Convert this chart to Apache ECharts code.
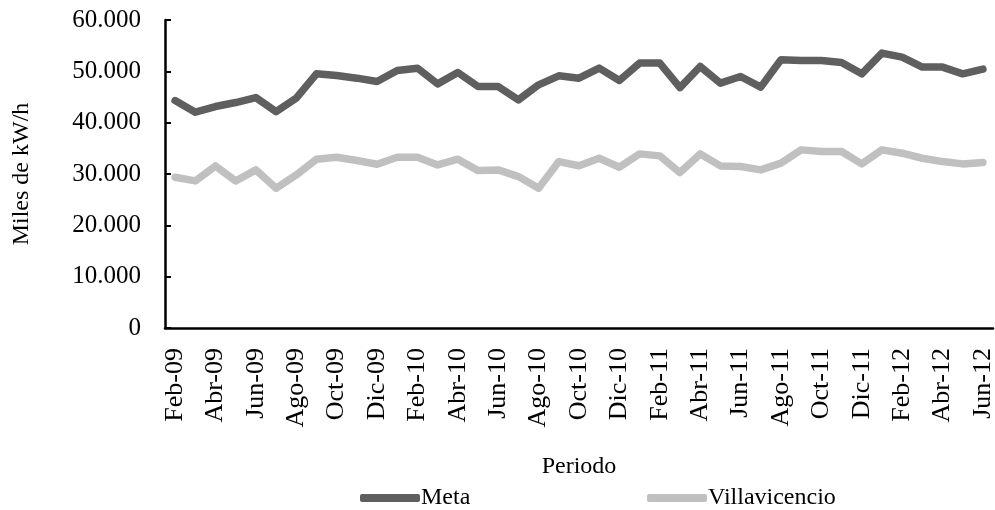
<!DOCTYPE html>
<html>
<head>
<meta charset="utf-8">
<script src="https://cdn.jsdelivr.net/npm/echarts@6/dist/echarts.min.js"></script>
<style>
html, body { margin: 0; padding: 0; background: #fff; }
#chart { width: 995px; height: 510px; }
</style>
</head>
<body>
<div id="chart"></div>
<script>
// periodos mensuales feb-2009 .. jun-2012
const periodos = [
  'Feb-09', 'Mar-09', 'Abr-09', 'May-09', 'Jun-09', 'Jul-09', 'Ago-09', 'Sep-09', 'Oct-09', 'Nov-09', 'Dic-09',
  'Ene-10', 'Feb-10', 'Mar-10', 'Abr-10', 'May-10', 'Jun-10', 'Jul-10', 'Ago-10', 'Sep-10', 'Oct-10', 'Nov-10', 'Dic-10',
  'Ene-11', 'Feb-11', 'Mar-11', 'Abr-11', 'May-11', 'Jun-11', 'Jul-11', 'Ago-11', 'Sep-11', 'Oct-11', 'Nov-11', 'Dic-11',
  'Ene-12', 'Feb-12', 'Mar-12', 'Abr-12', 'May-12', 'Jun-12'
]
// miles de kWh
const meta = [
  44300, 42050, 43140, 43920, 44890, 42160, 44770, 49510, 49180, 48670, 48010,
  50160, 50620, 47560, 49770, 47040, 47040, 44440, 47370, 49120, 48670, 50620, 48210,
  51600, 51600, 46840, 50940, 47700, 49000, 46920, 52240, 52110, 52110, 51720, 49510,
  53550, 52770, 50820, 50820, 49510, 50430
]
const villavicencio = [
  29370, 28650, 31580, 28650, 30800, 27220, 29820, 32880, 33270, 32620, 31910,
  33270, 33270, 31770, 32880, 30660, 30800, 29490, 27220, 32420, 31610, 33070, 31320,
  33920, 33530, 30270, 33920, 31580, 31450, 30800, 32110, 34700, 34370, 34370, 31970,
  34700, 34050, 33070, 32420, 31970, 32230
]
const yTicks = [0, 10000, 20000, 30000, 40000, 50000, 60000]

const serif = '"Liberation Serif", "Times New Roman", serif'
const colMeta = '#5f5f5f'
const colVilla = '#c0c0c0'

function fmtMiles(v) {
  if (v === 0) return '0'
  return String(v).replace(/\B(?=(\d{3})+(?!\d))/g, '.')
}

let chart = echarts.init(document.getElementById('chart'))

let legendBase = {
  orient: 'horizontal',
  bottom: -5,
  icon: 'roundRect',
  itemWidth: 60,
  itemHeight: 8,
  selectedMode: false,
  textStyle: { fontFamily: serif, fontSize: 24, color: '#000', padding: [0, 0, 0, -4] }
}

let option = {
  animation: false,
  backgroundColor: '#fff',
  color: [colMeta, colVilla],
  grid: { left: 165, right: 2, top: 20, bottom: 182, outerBoundsMode: 'none', containLabel: false },
  legend: [
    Object.assign({}, legendBase, { left: 355, data: ['Meta'] }),
    Object.assign({}, legendBase, { left: 642, data: ['Villavicencio'] })
  ],
  xAxis: {
    type: 'category',
    boundaryGap: true,
    data: periodos,
    name: 'Periodo',
    nameLocation: 'middle',
    nameGap: 127,
    nameTextStyle: { fontFamily: serif, fontSize: 24, color: '#000' },
    axisLine: { lineStyle: { color: '#000', width: 2.5 } },
    axisTick: { inside: true, length: 6, interval: 1, lineStyle: { color: '#000', width: 2 } },
    axisLabel: {
      interval: 1,
      rotate: 90,
      margin: 20,
      fontFamily: serif,
      fontSize: 26,
      color: '#000'
    },
    splitLine: { show: false }
  },
  yAxis: {
    type: 'value',
    min: yTicks[0],
    max: yTicks[yTicks.length - 1],
    interval: 10000,
    name: 'Miles de kW/h',
    nameLocation: 'middle',
    nameGap: 131,
    nameRotate: 90,
    nameTextStyle: { fontFamily: serif, fontSize: 24, color: '#000' },
    axisLine: { show: true, lineStyle: { color: '#000', width: 2.5 } },
    axisTick: { show: true, inside: true, length: 6, lineStyle: { color: '#000', width: 2 } },
    axisLabel: {
      margin: 24,
      fontFamily: serif,
      fontSize: 25,
      color: '#000',
      formatter: fmtMiles
    },
    splitLine: { show: false }
  },
  series: [
    {
      name: 'Meta',
      type: 'line',
      data: meta,
      symbol: 'none',
      lineStyle: { width: 7.5, color: colMeta, cap: 'round', join: 'round' },
      itemStyle: { color: colMeta }
    },
    {
      name: 'Villavicencio',
      type: 'line',
      data: villavicencio,
      symbol: 'none',
      lineStyle: { width: 7.5, color: colVilla, cap: 'round', join: 'round' },
      itemStyle: { color: colVilla }
    }
  ]
}
chart.setOption(option)
</script>
</body>
</html>
